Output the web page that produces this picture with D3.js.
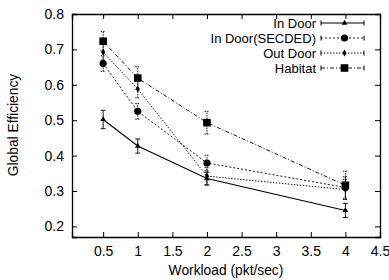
<!DOCTYPE html>
<html>
<head>
<meta charset="utf-8">
<script src="https://cdn.jsdelivr.net/npm/d3@7"></script>
<style>
  body { margin: 0; background: #fff; }
  svg { font-family: "Liberation Sans", Arial, sans-serif; }
</style>
</head>
<body>
<svg id="chart" width="389" height="280"></svg>
<script>
var workload = [0.5, 1, 2, 4];
var seriesNames = ["In Door", "In Door(SECDED)", "Out Door", "Habitat"];
var inDoor = [0.502, 0.427, 0.335, 0.245];
var inDoorErr = [0.026, 0.02, 0.018, 0.02];
var secded = [0.66, 0.525, 0.379, 0.31];
var secdedErr = [0.022, 0.022, 0.022, 0.03];
var outDoor = [0.692, 0.588, 0.342, 0.304];
var outDoorErr = [0.022, 0.025, 0.025, 0.028];
var habitat = [0.723, 0.619, 0.493, 0.316];
var habitatErr = [0.027, 0.032, 0.032, 0.04];
var xTicks = [0.5, 1, 1.5, 2, 2.5, 3, 3.5, 4, 4.5];
var yTicks = [0.2, 0.3, 0.4, 0.5, 0.6, 0.7, 0.8];

var chart = {};

chart.margin = {left: 72, right: 9, top: 14, bottom: 43};
chart.width = 389 - chart.margin.left - chart.margin.right;
chart.height = 280 - chart.margin.top - chart.margin.bottom;

var svg = d3.select("#chart");
var g = svg.append("g")
    .attr("transform", "translate(" + chart.margin.left + "," + chart.margin.top + ")");

var x = d3.scaleLinear().domain([0.05, 4.5]).range([0, chart.width]);
var y = d3.scaleLinear().domain([0.17, 0.8]).range([chart.height, 0]);

// axes: gnuplot style, ticks inward and mirrored
g.append("g")
    .attr("transform", "translate(0," + chart.height + ")")
    .call(d3.axisBottom(x).tickValues(xTicks).tickSize(-5).tickPadding(9).tickFormat(d3.format("")));
g.append("g")
    .call(d3.axisTop(x).tickValues(xTicks).tickSize(-5).tickFormat(""));
g.append("g")
    .call(d3.axisLeft(y).tickValues(yTicks).tickSize(-5).tickPadding(8).tickFormat(d3.format(".1f")));
g.append("g")
    .attr("transform", "translate(" + chart.width + ",0)")
    .call(d3.axisRight(y).tickValues(yTicks).tickSize(-5).tickFormat(""));

g.selectAll(".domain").attr("stroke", "#000").attr("stroke-width", 1.3);
g.selectAll(".tick line").attr("stroke", "#000");
g.selectAll(".tick text").attr("font-size", 14).attr("fill", "#000")
    .attr("font-family", "Liberation Sans, Arial, sans-serif");

svg.append("text")
    .attr("x", 226)
    .attr("y", 275)
    .attr("text-anchor", "middle")
    .attr("font-size", 13.8)
    .text("Workload (pkt/sec)");
svg.append("text")
    .attr("transform", "translate(18,125) rotate(-90)")
    .attr("text-anchor", "middle")
    .attr("font-size", 13.8)
    .text("Global Efficiency");

var series = [
    {name: seriesNames[0], vals: inDoor, err: inDoorErr, dash: null, mark: "triangle"},
    {name: seriesNames[1], vals: secded, err: secdedErr, dash: "2,2", mark: "circle"},
    {name: seriesNames[2], vals: outDoor, err: outDoorErr, dash: "1.5,1.5", mark: "diamond"},
    {name: seriesNames[3], vals: habitat, err: habitatErr, dash: "4,2,1,2", mark: "square"}
];

var line = d3.line()
    .x(function(d) { return x(d[0]); })
    .y(function(d) { return y(d[1]); });

function drawMark(sel, mark, cx, cy) {
    if (mark == "triangle") {
        sel.append("path").attr("d", d3.symbol(d3.symbolTriangle, 14)())
            .attr("transform", "translate(" + cx + "," + cy + ")");
    } else if (mark == "circle") {
        sel.append("circle").attr("cx", cx).attr("cy", cy).attr("r", 3.6);
    } else if (mark == "diamond") {
        sel.append("path").attr("d", d3.symbol(d3.symbolDiamond, 14)())
            .attr("transform", "translate(" + cx + "," + cy + ")");
    } else {
        sel.append("rect").attr("x", cx - 3.8).attr("y", cy - 3.8).attr("width", 7.6).attr("height", 7.6);
    }
}

for (let s of series) {
    var pts = workload.map(function(w, i) { return [w, s.vals[i]]; });
    g.append("path")
        .datum(pts)
        .attr("fill", "none")
        .attr("stroke", "#000")
        .attr("stroke-width", s.dash ? 0.9 : 1.1)
        .attr("stroke-dasharray", s.dash)
        .attr("d", line);
    var eg = g.append("g").attr("stroke", "#000").attr("stroke-width", 0.9)
        .attr("stroke-dasharray", s.dash ? "1.5,1" : null);
    workload.forEach(function(w, i) {
        var lo = y(s.vals[i] - s.err[i]), hi = y(s.vals[i] + s.err[i]);
        eg.append("line").attr("x1", x(w)).attr("x2", x(w)).attr("y1", lo).attr("y2", hi);
        eg.append("line").attr("x1", x(w) - 2.5).attr("x2", x(w) + 2.5).attr("y1", lo).attr("y2", lo)
            .attr("stroke-dasharray", null);
        eg.append("line").attr("x1", x(w) - 2.5).attr("x2", x(w) + 2.5).attr("y1", hi).attr("y2", hi)
            .attr("stroke-dasharray", null);
    });
    var mg = g.append("g").attr("fill", "#000");
    workload.forEach(function(w, i) { drawMark(mg, s.mark, x(w), y(s.vals[i])); });
}

// legend
var legend = svg.append("g");
series.forEach(function(s, i) {
    var ly = 23 + i * 15;
    legend.append("text")
        .attr("x", 316)
        .attr("y", ly + 4.5)
        .attr("text-anchor", "end")
        .attr("font-size", 13)
        .text(s.name);
    legend.append("line")
        .attr("x1", 321).attr("x2", 364).attr("y1", ly).attr("y2", ly)
        .attr("stroke", "#000").attr("stroke-width", s.dash ? 0.9 : 1.1)
        .attr("stroke-dasharray", s.dash);
    legend.append("line").attr("x1", 321).attr("x2", 321).attr("y1", ly - 2.5).attr("y2", ly + 2.5).attr("stroke", "#000");
    legend.append("line").attr("x1", 364).attr("x2", 364).attr("y1", ly - 2.5).attr("y2", ly + 2.5).attr("stroke", "#000");
    var lg = legend.append("g").attr("fill", "#000");
    drawMark(lg, s.mark, 344.5, ly);
});
</script>
</body>
</html>
